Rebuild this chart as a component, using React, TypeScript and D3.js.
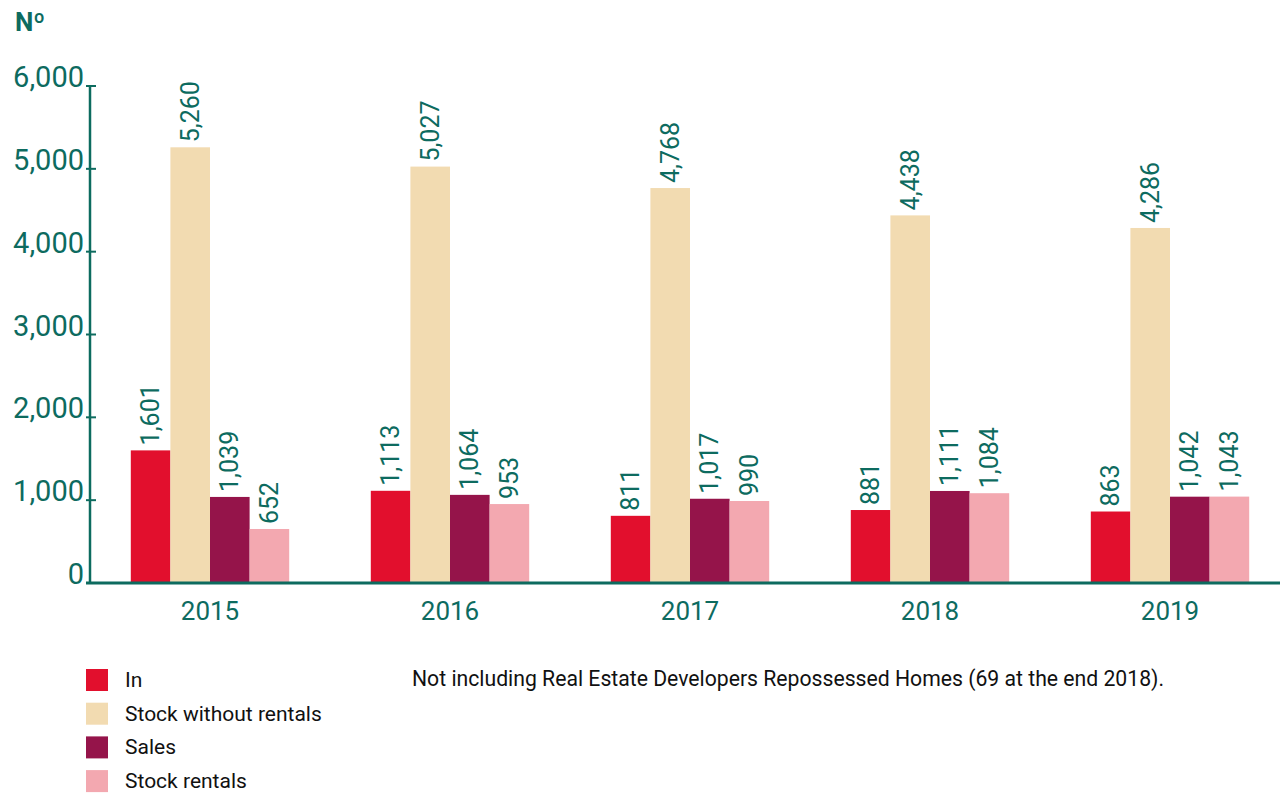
import React from "react";
import * as d3 from "d3";

const years = ["2015", "2016", "2017", "2018", "2019"];
const seriesNames = ["In", "Stock without rentals", "Sales", "Stock rentals"];
const seriesColors = ["#e20f2d", "#f2dbb1", "#95144a", "#f3a8b0"];
const inValues = [1601, 1113, 811, 881, 863];
const stockValues = [5260, 5027, 4768, 4438, 4286];
const salesValues = [1039, 1064, 1017, 1111, 1042];
const rentalValues = [652, 953, 990, 1084, 1043];
const yTicks = [0, 1000, 2000, 3000, 4000, 5000, 6000];
const note = "Not including Real Estate Developers Repossessed Homes (69 at the end 2018).";

const TEAL = "#0d6b5f";

export default function App() {
  const W = 1280, H = 794;
  const series = [inValues, stockValues, salesValues, rentalValues];
  const x0 = d3.scaleBand<string>().domain(years).range([90, 1290]).paddingInner(0.34).paddingOuter(0.17);
  const x1 = d3.scaleBand<number>().domain(d3.range(series.length)).range([0, x0.bandwidth()]);
  const y = d3.scaleLinear().domain([0, 6000]).range([583, 86]);
  const fmt = d3.format(",");

  return (
    <svg width={W} height={H} style={{ position: "absolute", left: 0, top: 0 }} fontFamily="Roboto, sans-serif">
      <rect width={W} height={H} fill="#fff" />
      <text x={15} y={31} fill={TEAL} fontSize={26} fontWeight={700}>Nº</text>
      {/* y axis */}
      <line x1={90} x2={90} y1={y(6000)} y2={y(0)} stroke={TEAL} strokeWidth={2.5} />
      {yTicks.map((t) => (
        <g key={t}>
          <line x1={86} x2={96} y1={y(t)} y2={y(t)} stroke={TEAL} strokeWidth={2} />
          <text x={84} y={y(t) + 1} textAnchor="end" fill={TEAL} fontSize={29}>{fmt(t)}</text>
        </g>
      ))}
      {/* bars */}
      {years.map((yr, i) => (
        <g key={yr} transform={`translate(${x0(yr)},0)`}>
          {series.map((s, j) => {
            const v = s[i];
            const bx = x1(j)!;
            const bw = x1.bandwidth();
            return (
              <g key={j}>
                <rect x={bx} y={y(v)} width={bw} height={y(0) - y(v)} fill={seriesColors[j]} />
                <text
                  transform={`translate(${bx + bw / 2},${y(v) - 5}) rotate(-90)`}
                  dominantBaseline="central"
                  fill={TEAL}
                  fontSize={25}
                  fontWeight={400}
                >
                  {fmt(v)}
                </text>
              </g>
            );
          })}
          <text x={x0.bandwidth() / 2} y={620} textAnchor="middle" fill={TEAL} fontSize={26}>{yr}</text>
        </g>
      ))}
      {/* x axis */}
      <line x1={86} x2={1280} y1={y(0)} y2={y(0)} stroke={TEAL} strokeWidth={3} />
      {/* legend */}
      {seriesNames.map((n, j) => (
        <g key={n} transform={`translate(86,${669 + j * 33.7})`}>
          <rect width={22} height={22} fill={seriesColors[j]} />
          <text x={39} y={18} fontSize={21} fill="#111">{n}</text>
        </g>
      ))}
      <text x={412} y={686} fontSize={21.2} fill="#111">{note}</text>
    </svg>
  );
}
